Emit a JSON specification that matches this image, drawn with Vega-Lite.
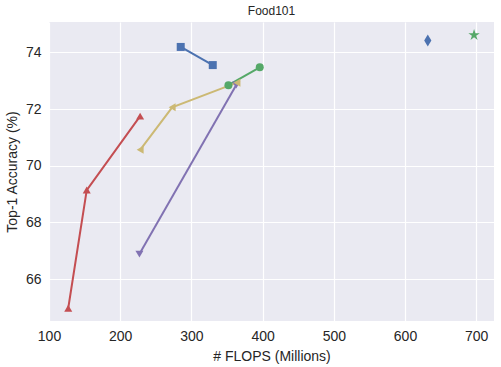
{
  "$schema": "https://vega.github.io/schema/vega-lite/v6.json",
  "autosize": "none",
  "width": 445,
  "height": 299,
  "padding": {"left": 49, "top": 22, "right": 7, "bottom": 46},
  "background": "white",
  "title": {"text": "Food101", "fontSize": 12, "fontWeight": "normal", "font": "Liberation Sans", "color": "#262626", "offset": 4},
  "data": {"values": [
    {"series": "A", "flops": 285, "acc": 74.19},
    {"series": "A", "flops": 330, "acc": 73.55},
    {"series": "B", "flops": 632, "acc": 74.42},
    {"series": "C", "flops": 697, "acc": 74.61},
    {"series": "D", "flops": 352, "acc": 72.84},
    {"series": "D", "flops": 396, "acc": 73.47},
    {"series": "E", "flops": 127, "acc": 64.97},
    {"series": "E", "flops": 153, "acc": 69.14},
    {"series": "E", "flops": 228, "acc": 71.75},
    {"series": "F", "flops": 227, "acc": 66.88},
    {"series": "F", "flops": 363, "acc": 72.85},
    {"series": "G", "flops": 228, "acc": 70.56},
    {"series": "G", "flops": 273, "acc": 72.06},
    {"series": "G", "flops": 364, "acc": 72.93}
  ]},
  "encoding": {
    "x": {"field": "flops", "type": "quantitative", "title": "# FLOPS (Millions)",
      "scale": {"domain": [100, 725], "nice": false, "zero": false},
      "axis": {"values": [100, 200, 300, 400, 500, 600, 700]}},
    "y": {"field": "acc", "type": "quantitative", "title": "Top-1 Accuracy (%)",
      "scale": {"domain": [64.52, 75.07], "nice": false, "zero": false},
      "axis": {"values": [66, 68, 70, 72, 74]}},
    "color": {"field": "series", "type": "nominal", "legend": null,
      "scale": {"domain": ["A", "B", "C", "D", "E", "F", "G"],
        "range": ["#4C72B0", "#4C72B0", "#55A868", "#55A868", "#C44E52", "#8172B2", "#CCB974"]}}
  },
  "layer": [
    {"mark": {"type": "line", "strokeWidth": 2}, "encoding": {"order": {"field": "flops", "type": "quantitative"}}},
    {"mark": {"type": "point", "filled": true, "opacity": 1, "size": 64},
      "encoding": {"shape": {"field": "series", "type": "nominal", "legend": null,
        "scale": {"domain": ["A", "B", "C", "D", "E", "F", "G"],
          "range": ["square", "M0,-1.5L0.9,0L0,1.5L-0.9,0Z", "M0,-1.5L0.337,-0.464L1.427,-0.464L0.545,0.177L0.882,1.214L0,0.573L-0.882,1.214L-0.545,0.177L-1.427,-0.464L-0.337,-0.464Z", "circle", "triangle-up", "triangle-down", "triangle-left"]}}}}
  ],
  "config": {
    "view": {"fill": "#EAEAF2", "stroke": null},
    "font": "Liberation Sans",
    "axis": {"domain": false, "ticks": false, "grid": true, "gridColor": "white", "gridWidth": 1.2, "gridOpacity": 1, "labelFlush": false,
      "labelFont": "Liberation Sans", "labelFontSize": 14, "labelColor": "#262626", "labelPadding": 8,
      "titleFont": "Liberation Sans", "titleFontSize": 14, "titleFontWeight": "normal", "titleColor": "#262626"},
    "axisX": {"titlePadding": 6},
    "axisY": {"titlePadding": 6}
  }
}
